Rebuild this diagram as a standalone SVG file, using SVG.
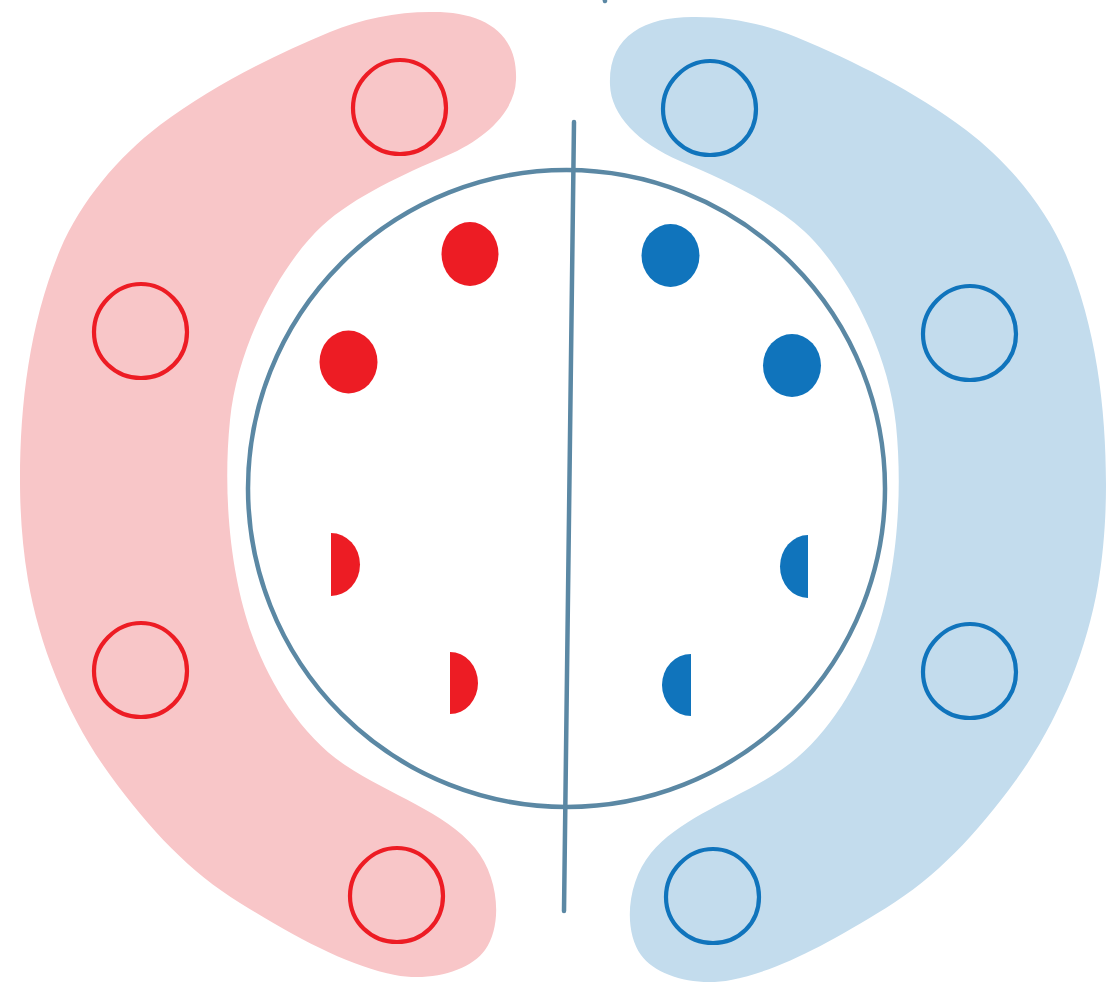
<svg xmlns="http://www.w3.org/2000/svg" xmlns:xlink="http://www.w3.org/1999/xlink" width="1114" height="987" viewBox="0 0 1114 987">
<style>
.ring-r{fill:none;stroke:#ed1c24;stroke-width:4.2}
.ring-b{fill:none;stroke:#1074bc;stroke-width:4.2}
.dot-r{fill:#ed1c24}
.dot-b{fill:#1074bc}
.line{fill:none;stroke:#5b88a4;stroke-width:4.5;stroke-linecap:round}
</style>
<defs>
<path id="ring" d="M 0 -47 C 25 -47, 46 -25, 46 1 C 46 27, 26 47, 0 47 C -26 47, -47 27, -47 1 C -47 -25, -25 -47, 0 -47 Z"/>
<path id="blob" d="M 20 480 C 20 402, 30 322, 60 250 C 81 201, 118 157, 160 125 C 212 86, 270 57, 330 32 C 361 19, 396 12, 430 12 C 480 11, 518 30, 516 80 C 515 110, 488 138, 446 156 C 404 174, 355 196, 322 226 C 285 260, 238 340, 230 420 C 222 500, 232 580, 252 635 C 268 680, 300 735, 345 765 C 390 795, 445 812, 475 848 C 499 877, 503 925, 485 950 C 470 971, 430 982, 395 975 C 349 966, 300 940, 240 903 C 190 872, 150 830, 110 775 C 70 720, 40 650, 28 580 C 22 545, 20 510, 20 480 Z"/>
</defs>
<rect width="1114" height="987" fill="#ffffff"/>
<g id="group-red"><use xlink:href="#blob" href="#blob" fill="#f8c6c8"/></g>
<g id="group-blue"><use xlink:href="#blob" href="#blob" fill="#c3dced" transform="translate(1126,5) scale(-1,1)"/></g>
<g id="ring-main"><circle cx="566.5" cy="488.5" r="318.5" class="line"/></g>
<g id="connectors">
<path class="line" d="M 574 122 L 564 911"/>
<path class="line" d="M 604 -4 L 605 1" stroke-width="3"/>
</g>
<g id="red-ring-1"><use xlink:href="#ring" href="#ring" class="ring-r" x="400" y="107"/></g>
<g id="red-ring-2"><use xlink:href="#ring" href="#ring" class="ring-r" x="141" y="331"/></g>
<g id="red-ring-3"><use xlink:href="#ring" href="#ring" class="ring-r" x="141" y="670"/></g>
<g id="red-ring-4"><use xlink:href="#ring" href="#ring" class="ring-r" x="397" y="895"/></g>
<g id="blue-ring-1"><use xlink:href="#ring" href="#ring" class="ring-b" x="710" y="108"/></g>
<g id="blue-ring-2"><use xlink:href="#ring" href="#ring" class="ring-b" x="970" y="333"/></g>
<g id="blue-ring-3"><use xlink:href="#ring" href="#ring" class="ring-b" x="970" y="671"/></g>
<g id="blue-ring-4"><use xlink:href="#ring" href="#ring" class="ring-b" x="713" y="896"/></g>
<g id="red-dot-1"><ellipse class="dot-r" cx="470" cy="254" rx="28.5" ry="32"/></g>
<g id="red-dot-2"><ellipse class="dot-r" cx="348.5" cy="362" rx="29" ry="31.5"/></g>
<g id="blue-dot-1"><ellipse class="dot-b" cx="670.5" cy="255.5" rx="29" ry="31.5"/></g>
<g id="blue-dot-2"><ellipse class="dot-b" cx="792" cy="365.5" rx="29" ry="31.5"/></g>
<g id="red-half-1"><path class="dot-r" d="M 331 533 A 29 31.5 0 0 1 331 596 Z"/></g>
<g id="red-half-2"><path class="dot-r" d="M 450 652 A 28 31 0 0 1 450 714 Z"/></g>
<g id="blue-half-1"><path class="dot-b" d="M 808 535 A 28 31.5 0 0 0 808 598 Z"/></g>
<g id="blue-half-2"><path class="dot-b" d="M 691 654 A 29 31 0 0 0 691 716 Z"/></g>
</svg>
